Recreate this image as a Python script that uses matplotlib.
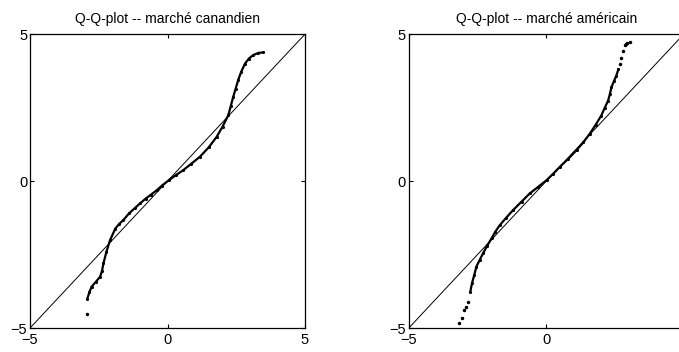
import matplotlib.pyplot as plt

plt.rcParams['font.family'] = ['Liberation Sans', 'DejaVu Sans']

# quantiles (théorique, empirique)
titres = ['Q-Q-plot -- marché canandien', 'Q-Q-plot -- marché américain']

can_x = [-2.92, -2.84, -2.76, -2.60, -2.45, -2.38, -2.33, -2.22, -2.09, -1.90, -1.75,
         -1.61, -1.40, -1.20, -1.00, -0.80, -0.60, -0.39, -0.20, 0.05, 0.30, 0.57,
         0.85, 1.18, 1.50, 1.79, 2.00, 2.21, 2.30, 2.39, 2.48, 2.57, 2.68, 2.82,
         2.96, 3.12, 3.30, 3.48]
can_y = [-4.01, -3.78, -3.59, -3.42, -3.25, -3.05, -2.80, -2.40, -2.01, -1.62, -1.45,
         -1.33, -1.10, -0.93, -0.76, -0.60, -0.46, -0.31, -0.15, 0.03, 0.20, 0.37,
         0.58, 0.83, 1.15, 1.51, 1.85, 2.24, 2.55, 2.87, 3.15, 3.44, 3.72, 4.00,
         4.17, 4.29, 4.36, 4.38]
can_ext_x = [-2.94]
can_ext_y = [-4.53]

us_x = [-2.76, -2.70, -2.62, -2.54, -2.42, -2.30, -2.15, -1.99, -1.85, -1.69, -1.45,
        -1.21, -0.90, -0.60, -0.30, 0.01, 0.25, 0.49, 0.80, 1.10, 1.35, 1.58, 1.80,
        2.00, 2.13, 2.25, 2.31, 2.37, 2.46, 2.55, 2.62]
us_y = [-3.76, -3.47, -3.20, -2.91, -2.68, -2.46, -2.20, -1.95, -1.72, -1.50, -1.24,
        -0.99, -0.70, -0.42, -0.20, 0.03, 0.25, 0.48, 0.76, 1.05, 1.32, 1.61, 1.92,
        2.23, 2.50, 2.74, 2.95, 3.19, 3.40, 3.59, 3.80]
us_ext_x = [-3.17, -3.05, -2.98, -2.93, -2.84, 2.67, 2.73, 2.79, 2.86, 2.89, 2.95, 3.03]
us_ext_y = [-4.83, -4.66, -4.40, -4.27, -4.10, 3.98, 4.20, 4.44, 4.62, 4.68, 4.71, 4.72]

series = [(can_x, can_y, can_ext_x, can_ext_y), (us_x, us_y, us_ext_x, us_ext_y)]

fig = plt.figure(figsize=(6.79, 3.52), dpi=100)
positions = [[0.0442, 0.068, 0.405, 0.835], [0.602, 0.068, 0.405, 0.835]]

for pos, titre, (x, y, ex, ey) in zip(positions, titres, series):
    ax = fig.add_axes(pos)
    ax.plot([-5, 5], [-5, 5], color='black', linewidth=0.7)
    ax.plot(x, y, color='black', linewidth=1.6, marker='.', markersize=2.5)
    ax.plot(ex, ey, linestyle='none', color='black', marker='.', markersize=3)
    ax.set_xlim(-5, 5)
    ax.set_ylim(-5, 5)
    ax.set_xticks([-5, 0, 5])
    ax.set_yticks([-5, 0, 5])
    ax.tick_params(direction='in', length=3, top=True, right=True, labelsize=10.5)
    ax.tick_params(axis='x', pad=3.5)
    ax.tick_params(axis='y', pad=2)
    for s in ax.spines.values():
        s.set_linewidth(0.9)
    ax.set_title(titre, fontsize=10, pad=8)

fig.savefig('out.png', dpi=100)
